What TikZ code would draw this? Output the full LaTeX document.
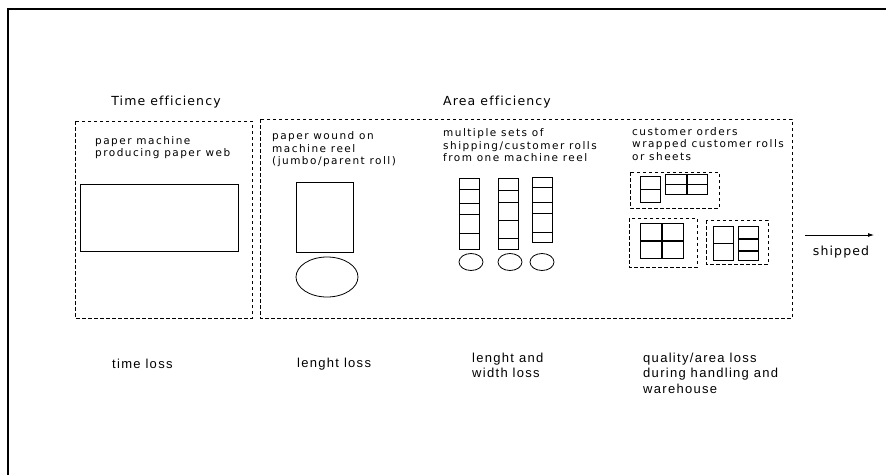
\documentclass[tikz,border=0pt]{standalone}
\usepackage{fontspec}
\setmainfont{Liberation Sans}
\newfontfamily\headfont[LetterSpace=9,Ligatures=CommonOff]{DejaVu Sans}
\newfontfamily\notefont[LetterSpace=14,Ligatures=CommonOff]{DejaVu Sans}
\newfontfamily\lossfont[LetterSpace=10,Ligatures=CommonOff]{Liberation Sans}
\usetikzlibrary{arrows.meta}

\tikzset{
  dashbox/.style={draw, line width=0.8pt, dash pattern=on 3.5pt off 2.5pt},
  rollbox/.style={draw, line width=0.8pt},
  headtext/.style={anchor=base, inner sep=0pt, font=\headfont\fontsize{12.5}{14}\selectfont},
  notetext/.style={anchor=north west, inner sep=0pt, align=left, font=\notefont\fontsize{10.5}{12.5}\selectfont},
  losstext/.style={anchor=north west, inner sep=0pt, align=left, font=\lossfont\fontsize{13}{15.5}\selectfont},
}

\begin{document}
\begin{tikzpicture}[x=1pt,y=-1pt]
  \useasboundingbox (0,0) rectangle (886,475);

  % frame
  \draw[line width=2pt] (886,9) -- (8,9) -- (8,475);

  % efficiency areas
  \draw[dashbox] (75,121) rectangle (252,318);
  \draw[dashbox] (260,119) rectangle (792,318);

  \begin{scope}[every node/.style={headtext}]
    \node (time) at (166,105) {Time efficiency};
    \node (area) at (497,105) {Area efficiency};
  \end{scope}

  \begin{scope}[every node/.style={notetext}]
    \node (machine) at (95,136)    {paper machine\\producing paper web};
    \node (reel)    at (272,131.5) {paper wound on\\machine reel\\(jumbo/parent roll)};
    \node (sets)    at (443,128.5) {multiple sets of\\shipping/customer rolls\\from one machine reel};
    \node (orders)  at (632,127)   {customer orders\\wrapped customer rolls\\or sheets};
  \end{scope}

  % paper machine and jumbo roll
  \draw[rollbox] (80,184) rectangle (238,251);
  \draw[rollbox] (296,182) rectangle (353,252);
  \draw[rollbox] (327,277) ellipse (31 and 20);

  % customer roll sets
  \draw[rollbox] (459,178) rectangle (479,249);
  \foreach \y in {189,203,214,233}
    \draw[rollbox] (459,\y) -- (479,\y);
  \draw[rollbox] (498,178) rectangle (518,249);
  \foreach \y in {190,202,220,238}
    \draw[rollbox] (498,\y) -- (518,\y);
  \draw[rollbox] (532,177) rectangle (552,242);
  \foreach \y in {187,202,213,232}
    \draw[rollbox] (532,\y) -- (552,\y);
  \foreach \x in {471,510,542}
    \draw[rollbox] (\x,262) ellipse (12 and 8.5);

  % customer orders
  \draw[dashbox] (630,172) rectangle (719,208);
  \draw[rollbox] (640,176) rectangle (660,202);
  \draw[rollbox] (640,189) -- (660,189);
  \draw[rollbox] (665,174) rectangle (686,194);
  \draw[rollbox] (665,184) -- (686,184);
  \draw[rollbox] (687.5,174) rectangle (707,194);
  \draw[rollbox] (687.5,184) -- (707,184);

  \draw[dashbox] (629,218) rectangle (697,267);
  \foreach \x in {640,662}
    \foreach \y in {223,241.5}
      \draw[rollbox] (\x,\y) rectangle ++(21,17);

  \draw[dashbox] (706,220) rectangle (768,264);
  \draw[rollbox] (713,226) rectangle (733,243);
  \draw[rollbox] (713,243) rectangle (733,260);
  \draw[rollbox] (738,226) rectangle (758,238);
  \draw[rollbox] (738,239) rectangle (758,250);
  \draw[rollbox] (738,251) rectangle (758,260);

  % shipping
  \coordinate (shipfrom) at (805,235);
  \coordinate (shipto)   at (874,235);
  \draw[line width=0.8pt, -{Latex[length=6pt,width=4pt]}] (shipfrom) -- (shipto);
  \node[headtext] (shipped) at (841,255) {shipped};

  % losses
  \begin{scope}[every node/.style={losstext}]
    \node (timeloss)    at (112,358.5) {time loss};
    \node (lengthloss)  at (297,357.5) {lenght loss};
    \node (widthloss)   at (472,352.5) {lenght and\\width loss};
    \node (qualityloss) at (643,352.5) {quality/area loss\\during handling and\\warehouse};
  \end{scope}
\end{tikzpicture}
\end{document}
